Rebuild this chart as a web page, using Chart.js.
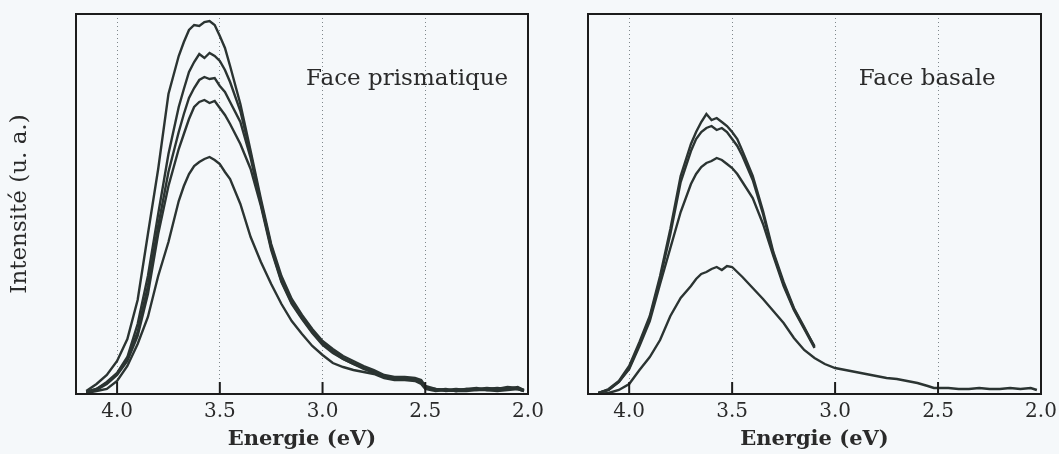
<!DOCTYPE html>
<html>
<head>
<meta charset="utf-8">
<script src="https://cdn.jsdelivr.net/npm/chart.js@4.4.1/dist/chart.umd.min.js"></script>
<style>
  html, body { margin: 0; padding: 0; background: #f5f8fa; overflow: hidden; }
  #wrap { position: relative; width: 1059px; height: 454px; }
  canvas { position: absolute; top: 0; }
  #left { left: 0; }
  #right { left: 545px; }
</style>
</head>
<body>
<div id="wrap">
  <canvas id="left" width="545" height="454"></canvas>
  <canvas id="right" width="514" height="454"></canvas>
</div>
<script>
// energie (eV), grille commune aux deux faces
const energies = [4.15, 4.10, 4.05, 4.00, 3.95, 3.90, 3.85, 3.80, 3.75, 3.70,
  3.675, 3.65, 3.625, 3.60, 3.575, 3.55, 3.525, 3.50, 3.475, 3.45,
  3.40, 3.35, 3.30, 3.25, 3.20, 3.15, 3.10, 3.05, 3.00, 2.95,
  2.90, 2.85, 2.80, 2.75, 2.70, 2.65, 2.60, 2.55, 2.52, 2.50,
  2.45, 2.40, 2.35, 2.30, 2.25, 2.20, 2.15, 2.10, 2.05, 2.02];

const xTicks = [4.0, 3.5, 3.0, 2.5, 2.0];

// Face prismatique (u. a.)
const prismA = [3, 10, 19, 33, 55, 94, 160, 225, 300, 338,
  352, 364, 369, 368, 372, 373, 369, 358, 346, 328,
  290, 243, 195, 150, 118, 95, 79, 65, 53, 45,
  38, 33, 28, 24, 19, 17, 17, 16, 14, 8,
  5, 4, 5, 4, 5, 6, 5, 7, 6, 4];
const prismB = [2, 5, 12, 21, 37, 70, 118, 180, 240, 287,
  305, 322, 332, 340, 336, 341, 338, 333, 324, 312,
  283, 240, 192, 148, 115, 93, 77, 63, 51, 43,
  36, 31, 27, 23, 18, 16, 16, 15, 13, 7,
  4, 5, 3, 5, 4, 5, 6, 5, 7, 4];
const prismC = [2, 5, 11, 20, 35, 62, 108, 168, 222, 262,
  280, 296, 306, 314, 317, 315, 316, 308, 302, 292,
  272, 236, 190, 146, 113, 91, 76, 62, 50, 42,
  35, 30, 26, 22, 17, 16, 15, 15, 12, 6,
  5, 3, 4, 5, 6, 4, 5, 6, 5, 3];
const prismD = [1, 4, 10, 19, 33, 58, 100, 160, 208, 245,
  260, 275, 287, 292, 294, 291, 293, 286, 279, 270,
  250, 225, 188, 144, 112, 90, 75, 61, 49, 41,
  35, 30, 25, 21, 17, 15, 15, 14, 11, 6,
  4, 4, 3, 4, 5, 4, 4, 5, 6, 3];
const prismE = [1, 3, 5, 13, 28, 50, 77, 118, 152, 193,
  208, 220, 228, 232, 235, 237, 234, 230, 222, 215,
  190, 157, 132, 110, 90, 73, 60, 48, 39, 31,
  27, 24, 22, 20, 16, 14, 14, 13, 10, 5,
  3, 4, 3, 3, 4, 4, 3, 4, 5, 3];

// Face basale (u. a.) ; trois spectres s'arretent vers 3.1 eV
const basalA = [1, 5, 13, 28, 52, 78, 118, 165, 218, 250,
  262, 272, 280, 274, 276, 272, 268, 262, 255, 243,
  218, 183, 142, 112, 86, 67, 47];
const basalB = [1, 4, 12, 26, 50, 76, 115, 160, 212, 243,
  255, 262, 266, 268, 264, 266, 262, 255, 248, 238,
  214, 180, 140, 110, 85, 66, 48];
const basalC = [1, 4, 12, 25, 48, 73, 110, 146, 182, 210,
  220, 227, 231, 233, 236, 234, 230, 226, 220, 212,
  196, 170, 138, 108, 84, 65, 46];
const basalD = [0, 1, 4, 10, 24, 37, 54, 78, 96, 108,
  115, 120, 122, 125, 127, 124, 128, 127, 122, 117,
  106, 95, 83, 71, 56, 44, 36, 30, 26, 24,
  22, 20, 18, 16, 15, 13, 11, 8, 6, 6,
  6, 5, 5, 6, 5, 5, 6, 5, 6, 4];

const lineColor = "#2b3432";
const textColor = "#2a2a2a";
const serif = "'DejaVu Serif', 'Liberation Serif', serif";

// cadre, petites graduations internes et nom de la face
const framePlugin = {
  id: "frame",
  afterDatasetsDraw(chart, args, opts) {
    const { ctx, chartArea: a, scales: { x, y } } = chart;
    ctx.save();
    ctx.strokeStyle = "#1c1c1c";
    ctx.lineWidth = 2;
    ctx.strokeRect(a.left, a.top, a.right - a.left, a.bottom - a.top);
    xTicks.slice(0, 4).forEach((v) => {
      const px = x.getPixelForValue(v);
      ctx.beginPath();
      ctx.moveTo(px, a.bottom);
      ctx.lineTo(px, a.bottom - 12);
      ctx.stroke();
    });
    ctx.font = "23px " + serif;
    ctx.fillStyle = textColor;
    ctx.textBaseline = "alphabetic";
    ctx.fillText(opts.text, x.getPixelForValue(opts.at[0]), y.getPixelForValue(opts.at[1]));
    ctx.restore();
  },
};

function makeChart(id, series, label, labelAt, yWidth, padRight, showY) {
  const datasets = series.map((vals) => ({
    data: vals.map((v, i) => ({ x: energies[i], y: v })),
    borderColor: lineColor,
    borderWidth: 2.4,
    pointRadius: 0,
    tension: 0,
    fill: false,
  }));

  return new Chart(document.getElementById(id), {
    type: "line",
    data: { datasets },
    plugins: [framePlugin],
    options: {
      responsive: false,
      animation: false,
      devicePixelRatio: 1,
      layout: { padding: { top: 14, right: padRight, left: 0, bottom: 0 } },
      plugins: {
        legend: { display: false },
        tooltip: { enabled: false },
        frame: { text: label, at: labelAt },
      },
      scales: {
        x: {
          type: "linear",
          min: 2.0,
          max: 4.2,
          reverse: true,
          afterBuildTicks: (s) => { s.ticks = xTicks.map((v) => ({ value: v })); },
          afterFit: (s) => { s.height = 60; s.paddingLeft = 0; s.paddingRight = 0; },
          grid: { color: "#7f878b", lineWidth: 1, drawTicks: false },
          border: { display: false, dash: [1, 3] },
          ticks: {
            padding: 6,
            color: textColor,
            font: { family: serif, size: 20 },
            callback: (v) => v.toFixed(1),
          },
          title: {
            display: true,
            text: "Energie (eV)",
            color: textColor,
            font: { family: serif, size: 21, weight: "bold" },
            padding: { top: 0, bottom: 2 },
          },
        },
        y: {
          display: showY,
          min: 0,
          max: 380,
          afterFit: (s) => { s.width = yWidth; },
          grid: { display: false, drawTicks: false },
          border: { display: false },
          ticks: { display: false },
          title: {
            display: true,
            text: "Intensité (u. a.)",
            color: textColor,
            font: { family: serif, size: 23 },
            padding: { top: 6, bottom: 0 },
          },
        },
      },
    },
  });
}

makeChart("left", [prismA, prismB, prismC, prismD, prismE], "Face prismatique", [3.08, 309], 76, 17, true);
makeChart("right", [basalA, basalB, basalC, basalD], "Face basale", [2.885, 309], 43, 18, false);
</script>
</body>
</html>
